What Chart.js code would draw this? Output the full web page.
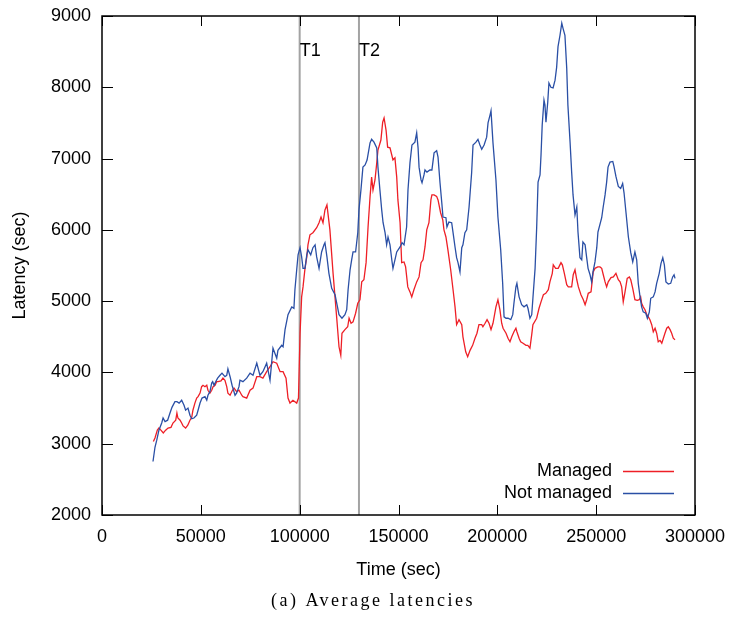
<!DOCTYPE html>
<html>
<head>
<meta charset="utf-8">
<title>Average latencies</title>
<script src="https://cdn.jsdelivr.net/npm/chart.js@4/dist/chart.umd.min.js"></script>
<style>
  body { margin: 0; background: #fff; }
  canvas { display: block; }
</style>
</head>
<body>
<canvas id="latencyChart" width="730" height="618"></canvas>
<script>
// Axis ticks
var xTicks = [0, 50000, 100000, 150000, 200000, 250000, 300000];
var yTicks = [2000, 3000, 4000, 5000, 6000, 7000, 8000, 9000];

// Event markers (vertical lines)
var markerTimes = [100000, 130000];
var markerLabels = ['T1', 'T2'];

var seriesLabels = ['Managed', 'Not managed'];

// Managed run
var managedTime = [
    26000, 26800, 28000, 28800, 29800, 31000, 32200, 33400, 34900, 35900, 37300, 37900, 38400, 39500, 40300, 41000,
    42300, 43400, 44500, 45400, 46000, 47000, 47900, 48600, 49600, 50400, 51100, 52100, 53000, 53600, 54600, 55500,
    56200, 57200, 58000, 58700, 60200, 61200, 62200, 63100, 63700, 64800, 65800, 66800, 68100, 69300, 70700, 71300,
    73200, 74900, 76400, 78300, 79900, 81400, 83300, 85000, 86500, 88400, 90100, 91600, 93100, 94100, 95100, 96600,
    98500, 99400, 100200, 101000, 101700, 102700, 103600, 104200, 105200, 106700, 108600, 109800, 110800, 111800, 112800, 113800,
    115300, 116900, 118700, 119900, 120800, 121400, 122900, 124300, 125000, 126000, 127000, 128300, 129400, 130500, 131400, 132500,
    133600, 134600, 135600, 136400, 137100, 138100, 139000, 139600, 141100, 142000, 142700, 143700, 144500, 145700, 146600, 147200,
    148200, 149100, 149700, 150800, 151600, 152800, 153600, 154700, 155800, 156700, 157800, 159200, 160400, 161400, 162400, 163400,
    164300, 165400, 166400, 166900, 168000, 169300, 170000, 171300, 172400, 173000, 174000, 175000, 176400, 177600, 178600, 179400,
    180600, 182000, 182600, 184000, 185000, 186200, 187500, 188700, 189700, 190700, 192100, 192700, 193800, 194800, 195800, 196800,
    197800, 199300, 200300, 201300, 202200, 202900, 204400, 205400, 206400, 207300, 208400, 209400, 209900, 211000, 211800, 213000,
    214500, 215400, 216500, 217400, 218000, 219900, 221100, 222100, 223300, 224500, 225800, 226600, 227800, 228300, 229500, 230800,
    232200, 232900, 233900, 235100, 235900, 237600, 238400, 239300, 240200, 241000, 242300, 243500, 244400, 245200, 246000, 247400,
    248500, 249400, 250800, 251900, 252800, 253600, 254500, 255300, 256100, 257500, 258700, 260000, 261200, 262100, 262900, 263700,
    264600, 265700, 266800, 267500, 268500, 269600, 270800, 271800, 272500, 273000, 273800, 274700, 275600, 276400, 277200, 278100,
    278900, 279800, 280600, 281400, 282300, 283200, 284000, 284800, 285700, 286500, 287400, 288200, 289000, 289900
];
var managedLatency = [
    3030, 3080, 3190, 3220, 3190, 3150, 3190, 3220, 3230, 3290, 3330, 3430, 3360, 3330, 3290, 3250,
    3220, 3260, 3330, 3370, 3470, 3570, 3640, 3660, 3710, 3800, 3820, 3800, 3820, 3750, 3710, 3750,
    3800, 3820, 3870, 3870, 3880, 3920, 3890, 3800, 3710, 3680, 3740, 3780, 3730, 3750, 3680, 3660,
    3640, 3750, 3780, 3940, 3940, 3920, 4010, 4080, 4150, 4130, 4010, 4010, 3920, 3640, 3570, 3610,
    3570, 3640, 4550, 5060, 5200, 5460, 5620, 5790, 5930, 5960, 6030, 6100, 6180, 6100, 6280, 6350,
    6000, 5390, 4780, 4360, 4240, 4550, 4600, 4640, 4760, 4690, 4710, 4830, 4970, 5020, 5270, 5300,
    5540, 6040, 6460, 6740, 6560, 6700, 6940, 7120, 7260, 7510, 7570, 7400, 7160, 7150, 7050, 6980,
    7010, 6740, 6420, 6100, 5540, 5550, 5480, 5200, 5130, 5060, 5160, 5270, 5340, 5540, 5580, 5760,
    6000, 6100, 6420, 6490, 6490, 6470, 6420, 6240, 6140, 6000, 5900, 5720, 5440, 5160, 4920, 4670,
    4740, 4670, 4500, 4290, 4220, 4310, 4380, 4480, 4550, 4670, 4670, 4640, 4690, 4740, 4690, 4600,
    4690, 4920, 5020, 4880, 4690, 4620, 4550, 4480, 4430, 4500, 4570, 4620, 4570, 4480, 4430, 4410,
    4380, 4380, 4340, 4530, 4670, 4760, 4900, 4990, 5090, 5110, 5160, 5270, 5390, 5510, 5460, 5460,
    5540, 5510, 5390, 5230, 5200, 5200, 5370, 5440, 5300, 5200, 5090, 5020, 4950, 5020, 5110, 5130,
    5410, 5460, 5480, 5480, 5460, 5370, 5270, 5200, 5270, 5330, 5340, 5390, 5300, 5270, 5200, 4990,
    5130, 5320, 5340, 5300, 5180, 5020, 5010, 5020, 5060, 4970, 4920, 4880, 4810, 4780, 4740, 4670,
    4570, 4620, 4550, 4430, 4450, 4410, 4480, 4550, 4620, 4640, 4600, 4550, 4480, 4460
];

// Not managed run
var notManagedTime = [
    25800, 26800, 27700, 28800, 30200, 30900, 31900, 33200, 34400, 35400, 36900, 37900, 39000, 40300, 41500, 42300,
    43500, 44500, 45400, 46500, 47900, 48600, 49600, 50600, 52100, 53000, 53600, 54600, 55500, 56000, 56700, 57500,
    58500, 59700, 60700, 62200, 63100, 63700, 64800, 65800, 67300, 68100, 69300, 69800, 71300, 73200, 74900, 76400,
    78300, 79900, 81400, 83300, 85000, 86500, 88400, 89000, 90900, 91600, 92600, 94100, 96000, 97100, 97600, 98500,
    99200, 100200, 101000, 101700, 102700, 103600, 104200, 105600, 106700, 107800, 108600, 109800, 111100, 112300, 112800, 113800,
    114800, 116200, 117900, 118900, 119900, 121400, 122900, 123800, 124500, 125500, 126300, 127000, 128300, 129400, 130000, 131000,
    132000, 133100, 134100, 135600, 136400, 137600, 139000, 139600, 140600, 141500, 142200, 143200, 144000, 144700, 145700, 146600,
    147200, 148200, 149100, 150800, 151800, 152800, 154100, 154800, 155800, 156800, 158300, 159200, 159900, 160400, 161400, 161900,
    162900, 163400, 164400, 165900, 166900, 168000, 169300, 170000, 171000, 171900, 172500, 174000, 174500, 175500, 176900, 177600,
    178600, 179400, 180100, 181100, 182000, 182600, 183600, 184500, 185700, 187000, 187700, 189200, 190200, 191200, 192100, 193300,
    194600, 195300, 196300, 196800, 197800, 199300, 200300, 201700, 202700, 203400, 204400, 205400, 206800, 207800, 208400, 209400,
    209900, 211000, 212300, 213500, 214900, 215500, 216500, 217400, 218000, 219100, 219900, 220600, 221600, 222100, 222700, 223600,
    224100, 224600, 225500, 226100, 227100, 228200, 229200, 230000, 230700, 231700, 232600, 233200, 234200, 235100, 235700, 236800,
    237600, 238300, 239300, 240200, 240800, 241800, 242700, 243300, 244400, 245200, 245900, 246900, 247700, 248400, 249400, 250300,
    250900, 252800, 253500, 254500, 255300, 256000, 257000, 258400, 259000, 260000, 261200, 262400, 263400, 264100, 265100, 266300,
    267500, 268500, 269600, 270500, 271300, 272200, 273000, 273800, 275100, 275900, 276900, 277600, 278900, 279800, 280600, 281900,
    282800, 283700, 284500, 285300, 286500, 287700, 288700, 289400, 289900
];
var notManagedLatency = [
    2750, 2950, 3050, 3190, 3290, 3360, 3310, 3330, 3430, 3510, 3590, 3590, 3570, 3610, 3540, 3470,
    3500, 3400, 3350, 3360, 3400, 3470, 3570, 3640, 3660, 3610, 3680, 3730, 3850, 3870, 3820, 3870,
    3920, 3960, 3990, 3940, 3960, 4050, 3940, 3820, 3680, 3710, 3800, 3890, 3870, 3920, 3990, 3960,
    4130, 3960, 4010, 4130, 3890, 4340, 4200, 4310, 4380, 4360, 4600, 4810, 4920, 4900, 5160, 5440,
    5650, 5750, 5620, 5460, 5460, 5650, 5720, 5650, 5750, 5790, 5620, 5460, 5690, 5790, 5820, 5620,
    5390, 5180, 5090, 4950, 4810, 4760, 4810, 4880, 5160, 5440, 5580, 5690, 5690, 5960, 6280, 6560,
    6880, 6910, 6980, 7220, 7270, 7230, 7150, 6880, 6560, 6280, 6100, 5960, 5790, 5900, 5790, 5580,
    5460, 5580, 5690, 5760, 5820, 5790, 6040, 6560, 6940, 7190, 7230, 7360, 7150, 6880, 6700, 6660,
    6770, 6840, 6810, 6840, 6840, 7080, 7110, 7020, 6660, 6380, 6180, 6170, 6040, 6110, 6100, 5960,
    5760, 5610, 5540, 5410, 5750, 5790, 5960, 6000, 6320, 6800, 7190, 7230, 7270, 7190, 7130, 7190,
    7300, 7500, 7610, 7670, 7220, 6700, 6180, 5720, 5250, 4780, 4760, 4760, 4740, 4810, 4970, 5200,
    5250, 5060, 4950, 4920, 4950, 4900, 4760, 4810, 5040, 5460, 6030, 6670, 6770, 7050, 7470, 7820,
    7750, 7510, 7790, 8060, 8000, 7990, 8100, 8280, 8570, 8730, 8900, 8830, 8730, 8270, 7750, 7230,
    6810, 6490, 6210, 6320, 5970, 5610, 5580, 5830, 5790, 5610, 5460, 5370, 5270, 5410, 5550, 5750,
    5970, 6170, 6310, 6490, 6670, 6880, 6950, 6960, 6890, 6750, 6610, 6580, 6650, 6520, 6240, 5900,
    5680, 5550, 5690, 5580, 5250, 5060, 4920, 4850, 4830, 4760, 4850, 5040, 5060, 5130, 5250, 5390,
    5530, 5610, 5510, 5270, 5240, 5250, 5340, 5370, 5320
];

var FONT = '"Liberation Sans", Arial, Helvetica, sans-serif';

function points(xs, ys) {
    return xs.map(function (t, i) {
        return { x: t, y: ys[i] };
    });
}

// Vertical marker lines, drawn as two-point datasets spanning the y range
var markerSets = markerTimes.map(function (t) {
    return {
        data: [{ x: t, y: yTicks[0] }, { x: t, y: yTicks[yTicks.length - 1] }],
        borderColor: '#a3a3a3',
        borderWidth: 2,
        pointRadius: 0,
        order: 3
    };
});

// Box, inward ticks on all four sides, marker labels, legend and caption
var decorations = {
    id: 'decorations',
    afterDatasetsDraw: function (chart) {
        var ctx = chart.ctx;
        var a = chart.chartArea;
        var x = chart.scales.x;
        var y = chart.scales.y;
        ctx.save();

        ctx.strokeStyle = '#000';
        ctx.lineWidth = 1;
        ctx.beginPath();
        xTicks.forEach(function (v) {
            var px = Math.round(x.getPixelForValue(v)) + 0.5;
            ctx.moveTo(px, a.bottom);
            ctx.lineTo(px, a.bottom - 10);
            ctx.moveTo(px, a.top);
            ctx.lineTo(px, a.top + 10);
        });
        yTicks.forEach(function (v) {
            var py = Math.round(y.getPixelForValue(v)) + 0.5;
            ctx.moveTo(a.left, py);
            ctx.lineTo(a.left + 11, py);
            ctx.moveTo(a.right, py);
            ctx.lineTo(a.right - 11, py);
        });
        ctx.stroke();

        ctx.lineWidth = 1.5;
        ctx.strokeRect(a.left, a.top, a.width, a.height);

        ctx.fillStyle = '#000';
        ctx.font = '18px ' + FONT;
        ctx.textBaseline = 'middle';
        ctx.textAlign = 'left';
        markerTimes.forEach(function (t, i) {
            ctx.fillText(markerLabels[i], x.getPixelForValue(t), a.top + 35);
        });

        // legend: text on the left, line sample on the right
        ctx.textAlign = 'right';
        seriesLabels.forEach(function (label, i) {
            var ds = chart.data.datasets[i];
            var ly = a.bottom - 44 + i * 22;
            ctx.fillStyle = '#000';
            ctx.fillText(label, a.right - 83, ly);
            ctx.strokeStyle = ds.borderColor;
            ctx.lineWidth = ds.borderWidth;
            ctx.beginPath();
            ctx.moveTo(a.right - 72, ly + 0.5);
            ctx.lineTo(a.right - 21, ly + 0.5);
            ctx.stroke();
        });

        // caption
        ctx.fillStyle = '#000';
        ctx.font = '18px "Liberation Serif", "Times New Roman", serif';
        ctx.letterSpacing = '2.5px';
        ctx.textAlign = 'center';
        ctx.fillText('(a) Average latencies', chart.width / 2 + 8, 601);
        ctx.restore();
    }
};

var ctx = document.getElementById('latencyChart').getContext('2d');
var latencyChart = new Chart(ctx, {
    type: 'line',
    data: {
        datasets: [{
            label: seriesLabels[0],
            data: points(managedTime, managedLatency),
            borderColor: '#ee1f26',
            borderWidth: 1.3,
            pointRadius: 0,
            order: 2
        }, {
            label: seriesLabels[1],
            data: points(notManagedTime, notManagedLatency),
            borderColor: '#2a4fa5',
            borderWidth: 1.3,
            pointRadius: 0,
            order: 1
        }].concat(markerSets)
    },
    options: {
        responsive: false,
        animation: false,
        devicePixelRatio: 1,
        layout: { padding: { top: 16, right: 35, left: 0, bottom: 0 } },
        plugins: {
            legend: { display: false },
            tooltip: { enabled: false }
        },
        elements: { line: { tension: 0 } },
        scales: {
            x: {
                type: 'linear',
                min: xTicks[0],
                max: xTicks[xTicks.length - 1],
                afterBuildTicks: function (scale) {
                    scale.ticks = xTicks.map(function (v) { return { value: v }; });
                },
                afterFit: function (scale) {
                    scale.height = 103;
                    scale.paddingLeft = 0;
                    scale.paddingRight = 0;
                },
                grid: { display: false, drawTicks: false },
                border: { display: false },
                ticks: {
                    color: '#000',
                    font: { family: FONT, size: 18 },
                    padding: 11,
                    maxRotation: 0,
                    autoSkip: false,
                    callback: function (v) { return String(v); }
                },
                title: {
                    display: true,
                    text: 'Time (sec)',
                    color: '#000',
                    font: { family: FONT, size: 18 },
                    padding: { top: 0, bottom: 37 }
                }
            },
            y: {
                type: 'linear',
                min: yTicks[0],
                max: yTicks[yTicks.length - 1],
                afterBuildTicks: function (scale) {
                    scale.ticks = yTicks.map(function (v) { return { value: v }; });
                },
                afterFit: function (scale) {
                    scale.width = 102;
                    scale.paddingTop = 0;
                    scale.paddingBottom = 0;
                },
                grid: { display: false, drawTicks: false },
                border: { display: false },
                ticks: {
                    color: '#000',
                    font: { family: FONT, size: 18 },
                    padding: 11,
                    callback: function (v) { return String(v); }
                },
                title: {
                    display: true,
                    text: 'Latency (sec)',
                    color: '#000',
                    font: { family: FONT, size: 18 },
                    padding: { top: 9, bottom: 0 }
                }
            }
        }
    },
    plugins: [decorations]
});
</script>
</body>
</html>
